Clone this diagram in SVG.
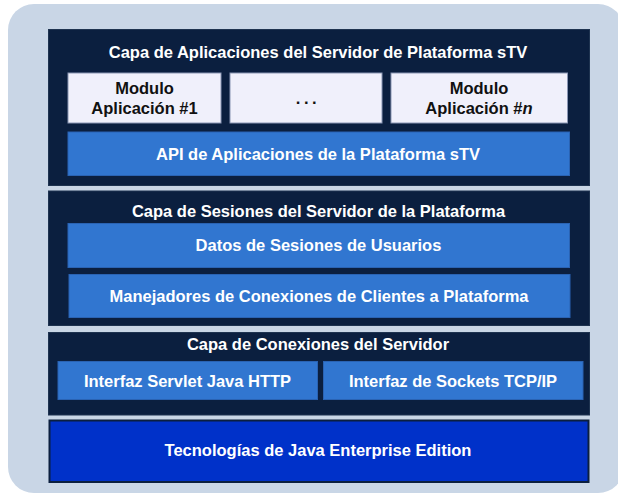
<svg xmlns="http://www.w3.org/2000/svg" width="618" height="495" viewBox="0 0 618 495">
<style>
.layer{fill:#0b1f3f;stroke:#1e3350;stroke-width:1}
.blue{fill:#3176d0;stroke:#2a63b3;stroke-width:1}
.mod{fill:#f0f0fb;stroke:#8a96b4;stroke-width:1}
.t{font-family:"Liberation Sans",Arial,sans-serif;font-weight:bold;text-anchor:middle;dominant-baseline:central;font-size:16.5px}
.w{fill:#ffffff}
.k{fill:#111111}
</style>
<rect x="8" y="4" width="616" height="489" rx="26" fill="#c9d6e6"/>
<g id="layer-apps">
<rect class="layer" x="48.5" y="29.5" width="541" height="156"/>
<text class="t w" x="318" y="52">Capa de Aplicaciones del Servidor de Plataforma sTV</text>
</g>
<g id="mod1">
<rect class="mod" x="68" y="73" width="153" height="50"/>
<text class="t k" x="144.5" y="88">Modulo</text>
<text class="t k" x="144.5" y="107.5">Aplicación #1</text>
</g>
<g id="mod2">
<rect class="mod" x="230" y="73" width="152" height="50"/>
<text x="306" y="103.5" font-family="Liberation Sans, Arial, sans-serif" font-size="16.5" font-weight="bold" fill="#111" text-anchor="middle" letter-spacing="-0.5">. . .</text>
</g>
<g id="modn">
<rect class="mod" x="391" y="73" width="176.5" height="50"/>
<text class="t k" x="479" y="88">Modulo</text>
<text class="t k" x="479" y="107.5">Aplicación #<tspan font-style="italic">n</tspan></text>
</g>
<g id="api">
<rect class="blue" x="68" y="132" width="501.5" height="43.5"/>
<text class="t w" x="318" y="154">API de Aplicaciones de la Plataforma sTV</text>
</g>
<g id="layer-sesiones">
<rect class="layer" x="48.5" y="191" width="541" height="134.5"/>
<text class="t w" x="318.5" y="211">Capa de Sesiones del Servidor de la Plataforma</text>
</g>
<g id="datos">
<rect class="blue" x="68" y="223.5" width="501.5" height="44"/>
<text class="t w" x="318.5" y="245">Datos de Sesiones de Usuarios</text>
</g>
<g id="manejadores">
<rect class="blue" x="69" y="274.5" width="501" height="43"/>
<text class="t w" x="319" y="295.5">Manejadores de Conexiones de Clientes a Plataforma</text>
</g>
<g id="layer-conexiones">
<rect class="layer" x="48.5" y="332.5" width="541" height="82.5"/>
<text class="t w" x="318" y="344">Capa de Conexiones del Servidor</text>
</g>
<g id="servlet">
<rect class="blue" x="58" y="361.5" width="259.5" height="38"/>
<text class="t w" x="187.5" y="381">Interfaz Servlet Java HTTP</text>
</g>
<g id="sockets">
<rect class="blue" x="323.5" y="361.5" width="259.5" height="38"/>
<text class="t w" x="453" y="381">Interfaz de Sockets TCP/IP</text>
</g>
<g id="javaee">
<rect x="49.5" y="420.5" width="539" height="61.5" fill="#0031c9" stroke="#0b1f3f" stroke-width="2"/>
<text class="t w" x="318" y="449.5">Tecnologías de Java Enterprise Edition</text>
</g>
<g id="connectors"></g>
</svg>
